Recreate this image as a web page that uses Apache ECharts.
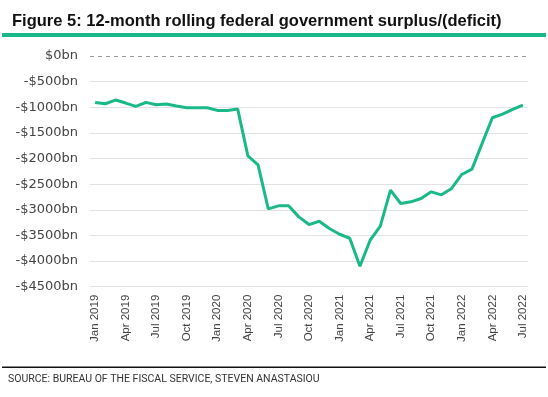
<!DOCTYPE html>
<html>
<head>
<meta charset="utf-8">
<title>12-month rolling federal government surplus/(deficit)</title>
<style>
  html, body { margin: 0; padding: 0; background: #fff; }
  #container { width: 548px; height: 397px; }
</style>
</head>
<body>
<div id="container"></div>
<script src="https://cdn.jsdelivr.net/npm/echarts@6/dist/echarts.min.js"></script>
<script>
// months Jan 2019 .. Jul 2022
var months = [
  'Jan 2019', 'Feb 2019', 'Mar 2019', 'Apr 2019', 'May 2019', 'Jun 2019',
  'Jul 2019', 'Aug 2019', 'Sep 2019', 'Oct 2019', 'Nov 2019', 'Dec 2019',
  'Jan 2020', 'Feb 2020', 'Mar 2020', 'Apr 2020', 'May 2020', 'Jun 2020',
  'Jul 2020', 'Aug 2020', 'Sep 2020', 'Oct 2020', 'Nov 2020', 'Dec 2020',
  'Jan 2021', 'Feb 2021', 'Mar 2021', 'Apr 2021', 'May 2021', 'Jun 2021',
  'Jul 2021', 'Aug 2021', 'Sep 2021', 'Oct 2021', 'Nov 2021', 'Dec 2021',
  'Jan 2022', 'Feb 2022', 'Mar 2022', 'Apr 2022', 'May 2022', 'Jun 2022',
  'Jul 2022'
];

// surplus/(deficit), $bn
var surplus = [
  -905, -931, -859, -918, -983, -905, -950, -937, -976, -1009, -1009, -1009,
  -1061, -1061, -1035, -1947, -2122, -2982, -2923, -2923, -3138, -3288, -3223, -3366,
  -3477, -3555, -4102, -3594, -3320, -2617, -2877, -2845, -2780, -2650, -2708, -2584,
  -2311, -2207, -1705, -1204, -1133, -1041, -957
];

var titleText = 'Figure 5: 12-month rolling federal government surplus/(deficit)';
var sourceText = 'SOURCE: BUREAU OF THE FISCAL SERVICE, STEVEN ANASTASIOU';

var green = '#1bb98a';
var grid = '#e2e2e2';

var chart = echarts.init(document.getElementById('container'));

chart.setOption({
  animation: false,
  backgroundColor: '#fff',
  title: {
    text: titleText,
    left: 7,
    top: 8,
    textStyle: {
      fontFamily: 'Liberation Sans',
      fontSize: 16.5,
      fontWeight: 'bold',
      color: '#111'
    }
  },
  graphic: [
    { type: 'rect', shape: { x: 2, y: 33, width: 544, height: 4 }, style: { fill: green } },
    { type: 'rect', shape: { x: 2, y: 366.5, width: 544, height: 1.5 }, style: { fill: '#111' } },
    {
      type: 'text', left: 8, top: 374,
      style: { text: sourceText, fontFamily: 'Roboto', fontSize: 10.5, fill: '#333' }
    }
  ],
  grid: { left: 90, right: 20, top: 56, bottom: 110.3 },
  xAxis: {
    type: 'category',
    data: months,
    boundaryGap: true,
    axisLine: { show: false },
    axisTick: { show: false },
    axisLabel: {
      interval: 2,
      rotate: 90,
      margin: 8,
      fontFamily: 'Liberation Sans',
      fontSize: 11.5,
      color: '#444'
    }
  },
  yAxis: {
    type: 'value',
    min: -4500,
    max: 0,
    interval: 500,
    axisLine: { show: false },
    axisTick: { show: false },
    axisLabel: {
      margin: 12,
      fontFamily: 'DejaVu Sans',
      fontSize: 13,
      color: '#444',
      formatter: function (v) {
        return v === 0 ? '$0bn' : '-$' + Math.abs(v) + 'bn';
      }
    },
    splitLine: {
      // the zero line is drawn dashed below
      lineStyle: {
        color: [grid, grid, grid, grid, grid, grid, grid, grid, grid, 'rgba(0,0,0,0)'],
        width: 1
      }
    }
  },
  series: [{
    type: 'line',
    data: surplus,
    symbol: 'none',
    lineStyle: { color: green, width: 3 },
    z: 3,
    markLine: {
      silent: true,
      symbol: 'none',
      label: { show: false },
      lineStyle: { color: '#9a9a9a', type: [4, 4], width: 1 },
      data: [{ yAxis: 0 }]
    }
  }]
});
</script>
</body>
</html>
